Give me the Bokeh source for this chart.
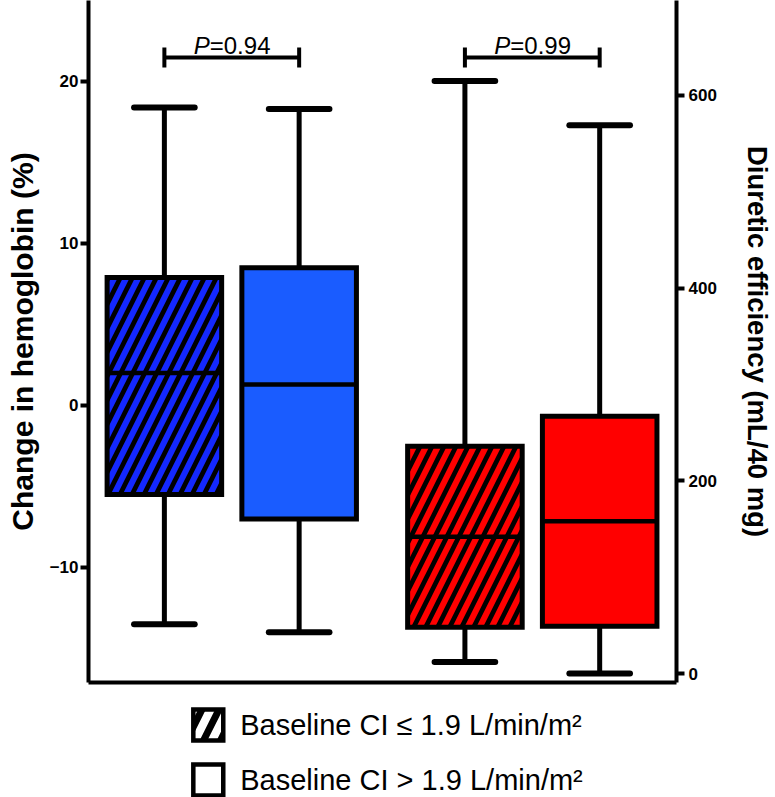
from bokeh.plotting import figure
from bokeh.layouts import column
from bokeh.models import Range1d, LinearAxis, FixedTicker
from bokeh.core.properties import value
from bokeh.embed import file_html
from bokeh.resources import INLINE

# ---------------- data ----------------
groups = ["Hb, CI <= 1.9", "Hb, CI > 1.9", "DE, CI <= 1.9", "DE, CI > 1.9"]
x_pos = [1.0, 2.0, 3.23, 4.23]

# Change in hemoglobin (%) -> left axis (blue boxes)
hb_min = [-13.5, -14.0]
hb_q1 = [-5.5, -7.0]
hb_med = [2.0, 1.3]
hb_q3 = [7.9, 8.5]
hb_max = [18.4, 18.3]

# Diuretic efficiency (mL/40 mg) -> right axis (red boxes)
de_min = [12, 0]
de_q1 = [48, 49]
de_med = [142, 158]
de_q3 = [236, 267]
de_max = [615, 569]

p_values = ["=0.94", "=0.99"]
left_ticks = [-10, 0, 10, 20]
right_ticks = [0, 200, 400, 600]
legend_labels = ["Baseline CI \u2264 1.9 L/min/m\u00b2", "Baseline CI > 1.9 L/min/m\u00b2"]
legend_hatched = [True, False]

blue_colors = ["#1428ff", "#1a5cff"]
red_colors = ["#ff0000", "#ff0000"]
FONT = "Liberation Sans"

BOX_W = 0.85
CAP_W = 0.45
MED_HALF = BOX_W / 2

BORDER_L, BORDER_R = 88, 98
WIDTH = 775

p = figure(width=WIDTH, height=686,
           x_range=Range1d(0.437, 4.800), y_range=Range1d(-17.10, 25.0),
           output_backend="svg", toolbar_location=None,
           min_border_left=BORDER_L, min_border_right=BORDER_R,
           min_border_top=0, min_border_bottom=4)
p.extra_y_ranges = {"right": Range1d(-9.34, 698.6)}
p.outline_line_color = None
p.xgrid.visible = False
p.ygrid.visible = False
p.background_fill_color = "white"
p.border_fill_color = "white"

# ---- axes ----
xa_ = p.xaxis[0]
xa_.ticker = FixedTicker(ticks=[])
xa_.major_tick_line_color = None
xa_.minor_tick_line_color = None
xa_.major_tick_out = 0
xa_.minor_tick_out = 0
xa_.major_label_standoff = 0
xa_.major_label_text_font_size = "0px"
xa_.axis_line_width = 4
xa_.axis_line_color = "black"

ya = p.yaxis[0]
ya.ticker = FixedTicker(ticks=left_ticks)
ya.axis_line_width = 4
ya.axis_line_color = "black"
ya.major_tick_line_width = 4
ya.major_tick_line_color = "black"
ya.major_tick_out = 8
ya.major_tick_in = 0
ya.minor_tick_line_color = None
ya.major_label_standoff = 2
ya.major_label_text_font = FONT
ya.major_label_text_font_style = "bold"
ya.major_label_text_font_size = "17px"
ya.major_label_text_color = "black"
ya.axis_label = "Change in hemoglobin (%)"
ya.axis_label_text_font = FONT
ya.axis_label_text_font_style = "bold"
ya.axis_label_text_font_size = "30px"
ya.axis_label_text_color = "black"
ya.axis_label_standoff = 8

ra = LinearAxis(y_range_name="right", ticker=FixedTicker(ticks=right_ticks))
ra.axis_line_width = 4
ra.axis_line_color = "black"
ra.major_tick_line_width = 4
ra.major_tick_line_color = "black"
ra.major_tick_out = 8
ra.major_tick_in = 0
ra.minor_tick_line_color = None
ra.major_label_standoff = 4
ra.major_label_text_font = FONT
ra.major_label_text_font_style = "bold"
ra.major_label_text_font_size = "17px"
ra.major_label_text_color = "black"
ra.axis_label = "Diuretic efficiency (mL/40 mg)"
ra.axis_label_text_font = FONT
ra.axis_label_text_font_style = "bold"
ra.axis_label_text_font_size = "27.5px"
ra.axis_label_text_color = "black"
ra.axis_label_standoff = 22
p.add_layout(ra, "right")

# ---- box plots ----
HATCH = dict(hatch_pattern="/", hatch_color="black", hatch_scale=24, hatch_weight=4.8)
LEG_HATCH = dict(hatch_pattern="/", hatch_color="black", hatch_scale=34, hatch_weight=7)

def draw_boxes(xs, mn, q1, med, q3, mx, colors, hatch, rng):
    kw = {} if rng is None else {"y_range_name": rng}
    # whiskers
    p.segment(x0=xs, y0=q3, x1=xs, y1=mx, line_color="black", line_width=5, **kw)
    p.segment(x0=xs, y0=q1, x1=xs, y1=mn, line_color="black", line_width=5, **kw)
    # caps
    cx0 = [x - CAP_W / 2 for x in xs]
    cx1 = [x + CAP_W / 2 for x in xs]
    p.segment(x0=cx0, y0=mx, x1=cx1, y1=mx, line_color="black", line_width=6,
              line_cap="round", **kw)
    p.segment(x0=cx0, y0=mn, x1=cx1, y1=mn, line_color="black", line_width=6,
              line_cap="round", **kw)
    # boxes
    for i in range(len(xs)):
        hk = HATCH if hatch[i] else {}
        p.vbar(x=[xs[i]], width=BOX_W, bottom=[q1[i]], top=[q3[i]],
               fill_color=colors[i], line_color="black", line_width=5,
               line_join="miter", **hk, **kw)
    # medians
    mx0 = [x - MED_HALF for x in xs]
    mx1 = [x + MED_HALF for x in xs]
    p.segment(x0=mx0, y0=med, x1=mx1, y1=med, line_color="black", line_width=4.5, **kw)

draw_boxes(x_pos[:2], hb_min, hb_q1, hb_med, hb_q3, hb_max, blue_colors, [True, False], None)
draw_boxes(x_pos[2:], de_min, de_q1, de_med, de_q3, de_max, red_colors, [True, False], "right")

# ---- P-value brackets ----
br_y = 21.48
br_lo = 20.86
br_hi = 22.10
txt_y = 22.25
for g in range(2):
    xa, xb = x_pos[2 * g], x_pos[2 * g + 1]
    p.segment(x0=[xa], y0=[br_y], x1=[xb], y1=[br_y], line_color="black", line_width=4)
    p.segment(x0=[xa, xb], y0=[br_lo, br_lo], x1=[xa, xb], y1=[br_hi, br_hi],
              line_color="black", line_width=4)
    mid = (xa + xb) / 2
    p.text(x=[mid], y=[txt_y], text=["P"], text_font=value(FONT),
           text_font_style="italic", text_font_size="24px", text_align="left",
           text_baseline="alphabetic", x_offset=-38, text_color="black")
    p.text(x=[mid], y=[txt_y], text=[p_values[g]], text_font=value(FONT),
           text_font_style="normal", text_font_size="24px", text_align="left",
           text_baseline="alphabetic", x_offset=-22, text_color="black")

# ---- legend strip below the plot (page-pixel coordinates) ----
LEG_H = 111
q = figure(width=WIDTH, height=LEG_H,
           x_range=Range1d(BORDER_L, WIDTH - BORDER_R), y_range=Range1d(LEG_H, 0),
           output_backend="svg", toolbar_location=None,
           x_axis_type=None, y_axis_type=None,
           min_border_left=BORDER_L, min_border_right=BORDER_R,
           min_border_top=0, min_border_bottom=0)
q.outline_line_color = None
q.xgrid.visible = False
q.ygrid.visible = False
q.background_fill_color = "white"
q.border_fill_color = "white"

SW_X = 208          # swatch centre x
SW_Y0 = 38.5        # first row centre y
ROW = 55            # row pitch
SW_W, SW_H = 30, 31
TXT_X = 240
for i, lab in enumerate(legend_labels):
    yc = SW_Y0 + i * ROW
    hk = LEG_HATCH if legend_hatched[i] else {}
    q.rect(x=[SW_X], y=[yc], width=SW_W, height=SW_H, fill_color="white",
           line_color="black", line_width=4.5, line_join="miter", **hk)
    q.text(x=[TXT_X], y=[yc], text=[lab], text_font=value(FONT),
           text_font_size="29px", text_align="left", text_baseline="middle",
           text_color="black")

layout = column(p, q, spacing=0)
open("out.html", "w").write(file_html(layout, INLINE))
